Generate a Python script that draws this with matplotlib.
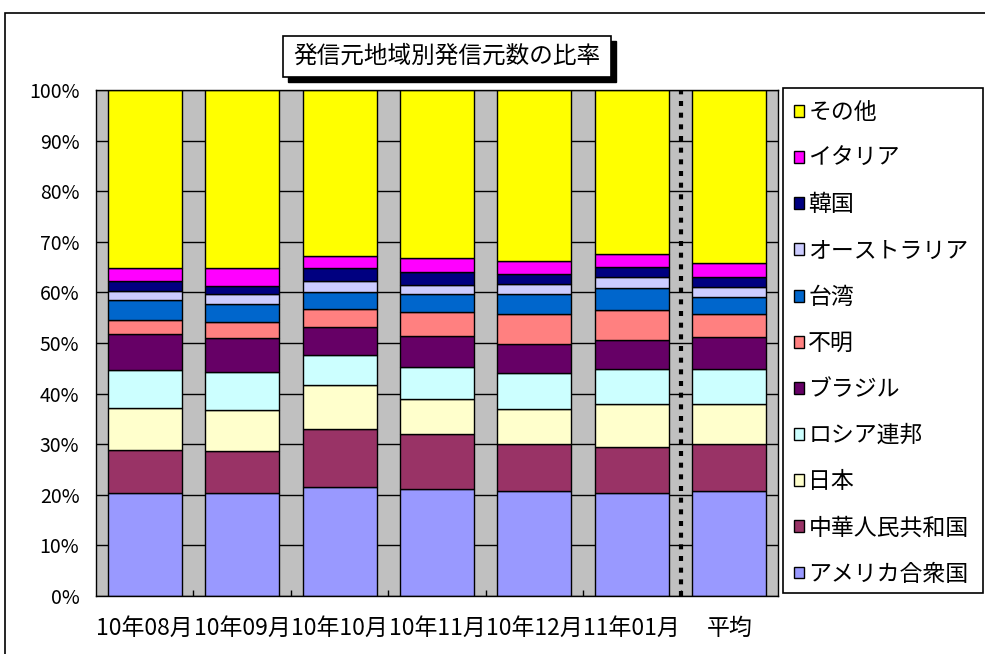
import numpy as np
import matplotlib
matplotlib.use('Agg')
import matplotlib.pyplot as plt
from matplotlib import patches
from matplotlib.ticker import FixedLocator, PercentFormatter

plt.rcParams['font.family'] = ['Noto Sans CJK JP', 'DejaVu Sans']

# 発信元地域別の比率 (%), 下から順に積み上げ
months = ['10年08月', '10年09月', '10年10月', '10年11月', '10年12月', '11年01月', '平均']
regions = ['アメリカ合衆国', '中華人民共和国', '日本', 'ロシア連邦', 'ブラジル', '不明',
           '台湾', 'オーストラリア', '韓国', 'イタリア', 'その他']
usa = [20.4, 20.4, 21.6, 21.2, 20.8, 20.4, 20.8]
china = [8.5, 8.3, 11.4, 10.8, 9.2, 9.1, 9.2]
japan = [8.2, 8.0, 8.7, 7.0, 7.0, 8.4, 7.9]
russia = [7.6, 7.5, 5.9, 6.3, 7.1, 7.0, 7.0]
brazil = [7.1, 6.7, 5.6, 6.1, 5.7, 5.6, 6.3]
unknown = [2.7, 3.2, 3.6, 4.7, 5.9, 6.0, 4.5]
taiwan = [4.0, 3.6, 3.2, 3.6, 3.9, 4.3, 3.4]
australia = [1.8, 1.9, 2.3, 1.8, 2.1, 2.3, 2.0]
korea = [1.9, 1.7, 2.5, 2.5, 1.9, 2.0, 2.0]
italy = [2.7, 3.5, 2.4, 2.7, 2.7, 2.4, 2.8]
other = [35.1, 35.2, 32.8, 33.3, 33.7, 32.5, 34.1]
series = [usa, china, japan, russia, brazil, unknown, taiwan, australia, korea, italy, other]
colors = ['#9999FF', '#993366', '#FFFFCC', '#CCFFFF', '#660066', '#FF8080',
          '#0066CC', '#CCCCFF', '#000080', '#FF00FF', '#FFFF00']

W, H = 985, 654
fig = plt.figure(figsize=(W / 100, H / 100), dpi=100)


def fx(px):
    return px / W


def fy(py):
    return 1 - py / H


# chart area border
fig.patches.append(patches.Rectangle((fx(5), fy(700)), 1.2, fy(13) - fy(700), transform=fig.transFigure,
                                     fill=False, edgecolor='black', linewidth=1.2))

ax = fig.add_axes([fx(96), fy(596), fx(778) - fx(96), fy(90) - fy(596)])
ax.set_facecolor('#C0C0C0')

x = np.arange(len(months))
bottom = np.zeros(len(months))
handles = []
for vals, col, name in zip(series, colors, regions):
    h = ax.bar(x, vals, width=0.76, bottom=bottom, color=col, edgecolor='black', linewidth=1.0,
               label=name, zorder=2)
    handles.append(h)
    bottom += np.array(vals)

ax.set_xlim(-0.5, len(months) - 0.5)
ax.set_ylim(0, 100)
ax.yaxis.set_major_locator(FixedLocator(np.arange(0, 101, 10)))
ax.yaxis.set_major_formatter(PercentFormatter(decimals=0))
ax.grid(axis='y', color='black', linewidth=1.0, zorder=1)
ax.set_axisbelow(True)
ax.set_xticks(x)
ax.set_xticklabels(months, fontsize=16.5)
ax.tick_params(axis='x', length=0, pad=15)
ax.tick_params(axis='y', length=0, pad=12, labelsize=14)
ax.xaxis.set_minor_locator(FixedLocator(np.arange(0.5, len(months) - 1, 1)))
ax.tick_params(axis='x', which='minor', direction='in', length=4.5, width=1, color='black')
for s in ax.spines.values():
    s.set_color('black')
    s.set_linewidth(1.0)

# separator before the average
ax.axvline(len(months) - 1.5, color='black', linewidth=3, linestyle=(0, (1.2, 1.6)), zorder=3)

# title box with shadow
bx0, bx1, by0, by1 = 283, 611, 36, 77
fig.patches.append(patches.Rectangle((fx(bx0 + 5), fy(by1 + 5)), fx(bx1) - fx(bx0), fy(by0) - fy(by1),
                                     transform=fig.transFigure, facecolor='black', edgecolor='black'))
fig.patches.append(patches.Rectangle((fx(bx0), fy(by1)), fx(bx1) - fx(bx0), fy(by0) - fy(by1),
                                     transform=fig.transFigure, facecolor='white', edgecolor='black',
                                     linewidth=1.2))
fig.text(fx((bx0 + bx1) / 2), fy((by0 + by1) / 2), '発信元地域別発信元数の比率', fontsize=17,
         ha='center', va='center')

# legend
fig.patches.append(patches.Rectangle((fx(783), fy(593)), fx(983) - fx(783), fy(88) - fy(593),
                                     transform=fig.transFigure, facecolor='white', edgecolor='black',
                                     linewidth=1.2))
fig.legend(handles[::-1], regions[::-1], loc='upper left', bbox_to_anchor=(fx(785), fy(92)),
           frameon=False, fontsize=16.5, handlelength=0.42, handleheight=0.42, handletextpad=0.2,
           labelspacing=1.01, borderaxespad=0, borderpad=0.4)

fig.savefig('out.png', dpi=100)
